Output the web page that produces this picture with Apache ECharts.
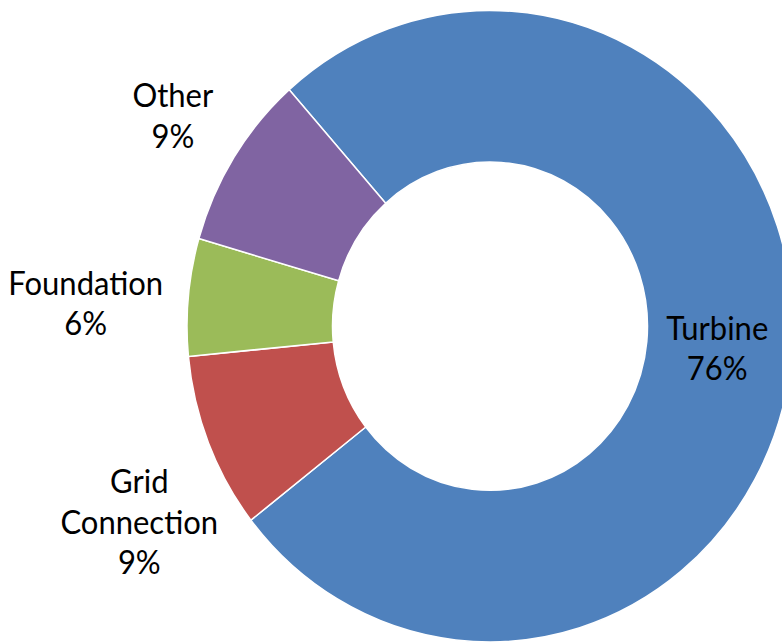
<!DOCTYPE html>
<html>
<head>
<meta charset="utf-8">
<script src="https://cdn.jsdelivr.net/npm/echarts@6/dist/echarts.min.js"></script>
<style>
  html, body { margin: 0; padding: 0; background: #fff; overflow: hidden; }
  #wrap { width: 782px; height: 643px; overflow: hidden; position: relative; }
  #chart { width: 782px; height: 617px; transform: scaleY(1.0421); transform-origin: 0 0; }
</style>
</head>
<body>
<div id="wrap"><div id="chart"></div></div>
<script>
// ---- data ----
const categories = ['Turbine', 'Grid Connection', 'Foundation', 'Other'];
const shares = [76, 9, 6, 9];
const labelText = ['Turbine', 'Grid\nConnection', 'Foundation', 'Other'];

// ---- styling ----
const sliceColors = ['#4F81BD', '#C0504D', '#9BBB59', '#8064A2'];
const labelShift = [[-5, -1], [-134, 101], [-172, -1], [-120, -78]];

const chart = echarts.init(document.getElementById('chart'), null, { renderer: 'svg' });
chart.setOption({
  animation: false,
  backgroundColor: '#ffffff',
  series: [{
    type: 'pie',
    center: [490, 313],
    radius: [157.5, 303],
    startAngle: 131.5,
    clockwise: true,
    avoidLabelOverlap: false,
    silent: true,
    itemStyle: { borderColor: '#ffffff', borderWidth: 1.5 },
    label: {
      show: true,
      position: 'inside',
      color: '#000000',
      fontFamily: 'Lato',
      fontSize: 31,
      lineHeight: 39,
      align: 'center',
      formatter: p => labelText[p.dataIndex] + '\n' + p.value + '%'
    },
    labelLine: { show: false },
    labelLayout: p => ({ dx: labelShift[p.dataIndex][0], dy: labelShift[p.dataIndex][1] }),
    data: categories.map((c, i) => ({
      name: c,
      value: shares[i],
      itemStyle: { color: sliceColors[i] }
    }))
  }]
});
</script>
</body>
</html>
